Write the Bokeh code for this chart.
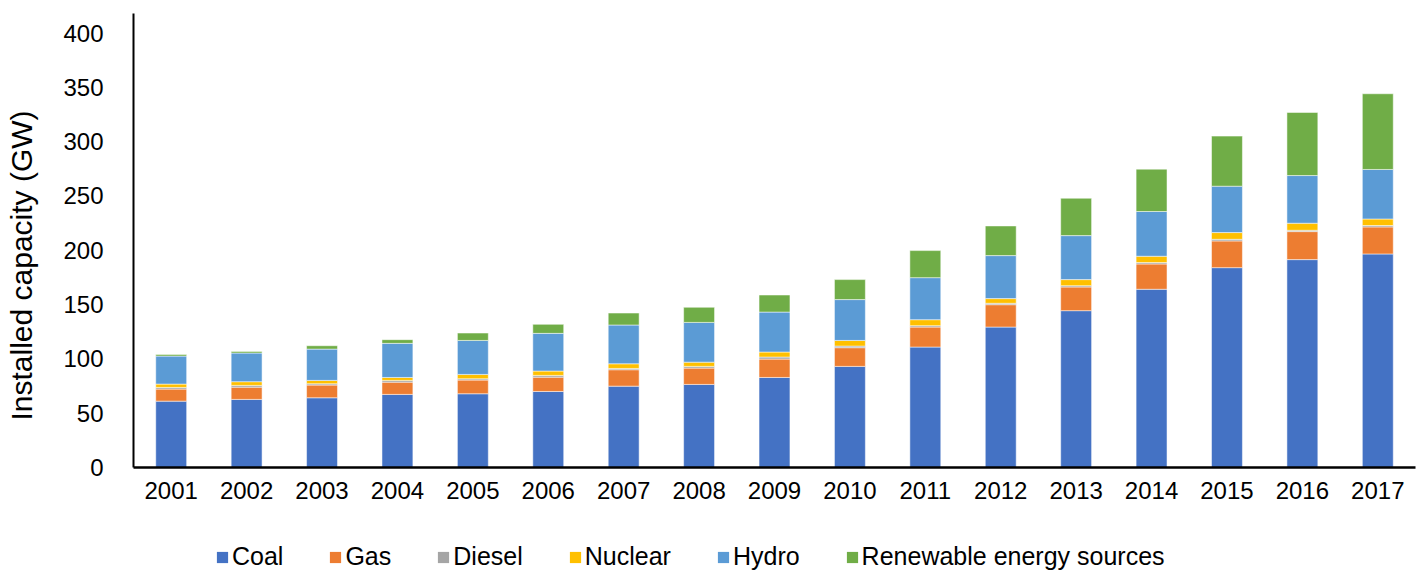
from bokeh.plotting import figure
from bokeh.layouts import column
from bokeh.models import ColumnDataSource, Legend, LegendItem, FixedTicker, Range1d
from bokeh.embed import file_html
from bokeh.resources import INLINE

years = ["2001", "2002", "2003", "2004", "2005", "2006", "2007", "2008", "2009",
         "2010", "2011", "2012", "2013", "2014", "2015", "2016", "2017"]
coal = [61.1, 62.7, 64.2, 67.3, 67.9, 70.0, 74.9, 76.5, 82.9, 93.1, 110.9, 129.3, 144.4, 164.1, 184.0, 191.4, 196.6]
gas = [11.1, 11.3, 11.7, 11.3, 12.6, 13.2, 15.1, 15.0, 16.9, 17.2, 18.4, 20.6, 21.8, 23.3, 24.6, 25.8, 24.9]
diesel = [1.5, 1.6, 1.2, 1.6, 1.2, 1.6, 1.2, 1.6, 1.9, 1.5, 1.3, 1.3, 1.2, 1.3, 1.5, 1.2, 1.3]
nuclear = [3.1, 3.4, 3.1, 2.7, 4.0, 4.0, 4.3, 3.9, 4.6, 5.2, 5.5, 4.3, 5.6, 5.8, 6.2, 6.5, 6.0]
hydro = [25.8, 26.4, 28.8, 31.4, 31.3, 34.7, 35.7, 36.6, 36.8, 37.6, 38.7, 39.6, 40.5, 41.2, 42.7, 43.9, 45.6]
renewable = [1.5, 1.5, 3.1, 3.4, 6.8, 8.3, 11.0, 13.9, 15.7, 18.4, 24.9, 27.3, 34.4, 39.0, 46.1, 58.1, 69.7]

series = ["Coal", "Gas", "Diesel", "Nuclear", "Hydro", "Renewable energy sources"]
colors = ["#4472C4", "#ED7D31", "#A5A5A5", "#FFC000", "#5B9BD5", "#70AD47"]
y_ticks = [0, 50, 100, 150, 200, 250, 300, 350, 400]

source = ColumnDataSource(data=dict(
    years=years, Coal=coal, Gas=gas, Diesel=diesel, Nuclear=nuclear,
    Hydro=hydro, **{"Renewable energy sources": renewable}))

FONT = "Liberation Sans"

# ---- main chart ----
p = figure(x_range=years, y_range=Range1d(0, 418), width=1421, height=512,
           output_backend="svg", toolbar_location=None,
           min_border_left=133, min_border_right=6, min_border_top=13, min_border_bottom=45)
p.x_range.range_padding = 0

p.vbar_stack(series, x="years", width=0.41, source=source, color=colors,
             line_color="white", line_alpha=0.5, line_width=1)

p.xgrid.grid_line_color = None
p.ygrid.grid_line_color = None
p.outline_line_color = None

p.yaxis.ticker = FixedTicker(ticks=y_ticks)
for ax in (p.xaxis[0], p.yaxis[0]):
    ax.axis_line_color = "black"
    ax.axis_line_width = 2
    ax.major_tick_line_color = None
    ax.minor_tick_line_color = None
    ax.major_tick_out = 0
    ax.major_tick_in = 0
    ax.major_label_text_font = FONT
    ax.major_label_text_font_size = "24px"
    ax.major_label_text_color = "black"
p.xaxis.axis_line_width = 2.5
p.yaxis.major_label_standoff = 30
p.xaxis.major_label_standoff = 14

# trailing no-break spaces shift the (centred) title slightly down, as in the original
p.yaxis.axis_label = "Installed capacity (GW)" + "\u00a0" * 6
p.yaxis.axis_label_text_font = FONT
p.yaxis.axis_label_text_font_size = "30px"
p.yaxis.axis_label_text_font_style = "normal"
p.yaxis.axis_label_text_color = "black"
p.yaxis.axis_label_standoff = 22

# ---- legend strip (its frame is aligned with the chart frame by the column) ----
p2 = figure(width=1421, height=60, x_range=Range1d(0, 1), y_range=Range1d(0, 1),
            output_backend="svg", toolbar_location=None,
            x_axis_location=None, y_axis_location=None,
            min_border_left=0, min_border_right=0, min_border_top=0, min_border_bottom=0)
p2.xgrid.grid_line_color = None
p2.ygrid.grid_line_color = None
p2.outline_line_color = None

# zero-height swatch renderers (invisible in the strip; only their legend glyphs show)
swatches = [p2.vbar(x=[0.5], top=[0], bottom=[0], width=0.0, fill_color=c, line_color=None)
            for c in colors]
items = [LegendItem(label=s, renderers=[r]) for s, r in zip(series, swatches)]
legend = Legend(items=items, orientation="horizontal", location=(82, 1),
                label_text_font=FONT, label_text_font_size="25px", label_text_color="black",
                glyph_width=14, glyph_height=14, label_standoff=3, spacing=45,
                padding=0, margin=0, border_line_color=None, background_fill_alpha=0)
p2.add_layout(legend)

layout = column(p, p2, spacing=0)
open("out.html", "w").write(file_html(layout, INLINE))
